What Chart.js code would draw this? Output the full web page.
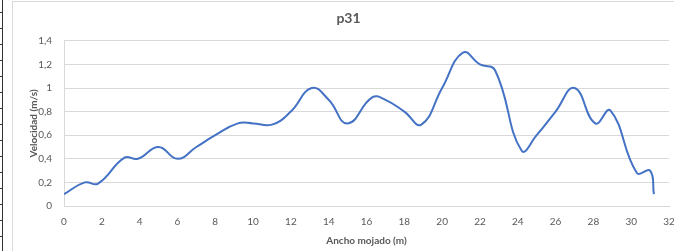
<!DOCTYPE html>
<html>
<head>
<meta charset="utf-8">
<script src="https://cdn.jsdelivr.net/npm/chart.js@4/dist/chart.umd.min.js"></script>
<style>
  html, body { margin: 0; padding: 0; background: #fff; }
  #wrap { position: relative; width: 674px; height: 251px; overflow: hidden; }
  #sheetEdge { position: absolute; left: 2px; top: 0; width: 1px; height: 251px; background: #333; }
  #frame { position: absolute; left: 12px; top: 1px; width: 680px; height: 260px; border: 1px solid #d9d9d9; box-sizing: border-box; }
  .tick { position: absolute; left: 0; width: 3px; height: 1px; background: #333; }
  canvas { position: absolute; left: 0; top: 0; }
</style>
</head>
<body>
<div id="wrap">
  <div id="sheetEdge"></div>
  <div id="frame"></div>
  <canvas id="myChart" width="700" height="251"></canvas>
</div>
<script>
'use strict';

//***************** Data *****************
let anchoMojado = [0, 1.1, 1.8, 3.2, 3.9, 5, 6, 7, 8, 9.2, 10, 11, 12, 13.1, 14, 15, 16.3, 17, 18, 18.9, 20, 21.1, 22, 22.8, 24.2, 25, 26, 27, 28.1, 28.9, 30.3, 31, 31.2];
let velocidad = [0.1, 0.2, 0.19, 0.41, 0.4, 0.5, 0.4, 0.5, 0.6, 0.7, 0.7, 0.69, 0.8, 1.0, 0.9, 0.7, 0.92, 0.9, 0.8, 0.69, 1.0, 1.3, 1.2, 1.15, 0.47, 0.6, 0.8, 1.0, 0.7, 0.81, 0.28, 0.3, 0.1];
let xTicks = [0, 2, 4, 6, 8, 10, 12, 14, 16, 18, 20, 22, 24, 26, 28, 30, 32];
let yTicks = [0, 0.2, 0.4, 0.6, 0.8, 1, 1.2, 1.4];

// spreadsheet row marks on the far left
let wrap = document.getElementById('wrap');
for (let y = 12; y < 251; y += 16) {
  let t = document.createElement('div');
  t.className = 'tick';
  t.style.top = y + 'px';
  wrap.appendChild(t);
}

let points = [];
for (let i = 0; i < anchoMojado.length; i++) {
  points.push({ x: anchoMojado[i], y: velocidad[i] });
}

let grey = '#595959';
let tickFont = { family: 'Lato, "Liberation Sans", sans-serif', size: 10 };
let titleFont = { family: 'Lato, "Liberation Sans", sans-serif', size: 10, weight: 'bold' };

let ctx = document.getElementById('myChart');

new Chart(ctx, {
  type: 'line',
  data: {
    datasets: [{
      data: points,
      borderColor: '#4472C4',
      borderWidth: 2,
      pointRadius: 0,
      tension: 0.45,
      fill: false
    }]
  },
  options: {
    responsive: false,
    animation: false,
    layout: { padding: { left: 28, right: 31, top: 0, bottom: 0 } },
    plugins: {
      legend: { display: false },
      tooltip: { enabled: false },
      title: {
        display: true,
        text: 'p31',
        color: grey,
        font: { family: 'Lato, "Liberation Sans", sans-serif', size: 14, weight: 'bold' },
        padding: { top: 10, bottom: 14 }
      }
    },
    scales: {
      x: {
        type: 'linear',
        min: 0,
        max: 32,
        afterBuildTicks: function (scale) {
          scale.ticks = xTicks.map(v => ({ value: v }));
        },
        afterFit: function (scale) { scale.height = 45; },
        grid: { display: false, drawTicks: false },
        border: { display: true, color: '#d9d9d9' },
        ticks: { color: grey, font: tickFont, padding: 10, maxRotation: 0 },
        title: { display: true, text: 'Ancho mojado (m)', color: grey, font: titleFont, padding: { top: 1 } }
      },
      y: {
        min: 0,
        max: 1.4,
        afterBuildTicks: function (scale) {
          scale.ticks = yTicks.map(v => ({ value: v }));
        },
        afterFit: function (scale) { scale.width = 36; },
        grid: { color: '#d9d9d9', drawTicks: false },
        border: { display: true, color: '#d9d9d9' },
        ticks: {
          color: grey,
          font: tickFont,
          padding: 12,
          callback: function (v) { return String(Math.round(v * 10) / 10).replace('.', ','); }
        },
        title: { display: true, text: 'Velocidad (m/s)', color: grey, font: titleFont, padding: { top: 0, bottom: 0 } }
      }
    }
  }
});
</script>
</body>
</html>
